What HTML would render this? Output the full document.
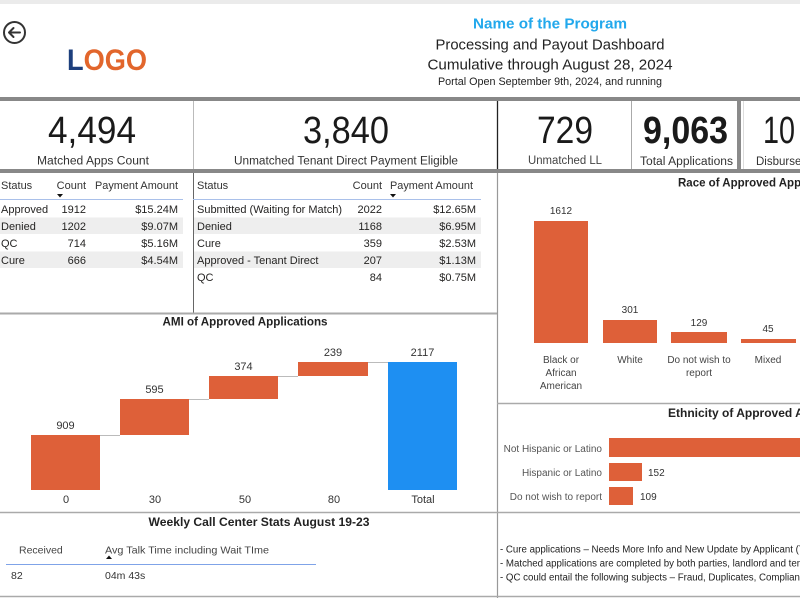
<!DOCTYPE html>
<html><head><meta charset="utf-8">
<style>
html,body{margin:0;padding:0;background:#fff;}
svg{display:block;}
text{font-family:"Liberation Sans",sans-serif;}
</style></head>
<body>
<svg width="800" height="600" viewBox="0 0 800 600" xmlns="http://www.w3.org/2000/svg">
<rect x="0" y="0" width="800" height="600" fill="#fff"/>
<!-- top band -->
<rect x="0" y="0" width="800" height="4" fill="#ebebeb"/>
<!-- back arrow -->
<circle cx="14.5" cy="32.5" r="10.5" fill="none" stroke="#333" stroke-width="2"/>
<path d="M20 32.5 H9 M13.5 28 L9 32.5 L13.5 37" fill="none" stroke="#333" stroke-width="2" stroke-linecap="round" stroke-linejoin="round"/>
<!-- logo -->
<text x="67" y="70" font-size="30" font-weight="bold" textLength="80" lengthAdjust="spacingAndGlyphs"><tspan fill="#1d3f7d">L</tspan><tspan fill="#e2662c">OGO</tspan></text>
<!-- titles -->
<text x="550" y="28.5" font-size="15" font-weight="bold" fill="#22a8ec" text-anchor="middle" textLength="154" lengthAdjust="spacingAndGlyphs">Name of the Program</text>
<text x="550" y="49.5" font-size="15" fill="#222" text-anchor="middle" textLength="229" lengthAdjust="spacingAndGlyphs">Processing and Payout Dashboard</text>
<text x="550" y="69.5" font-size="15" fill="#222" text-anchor="middle" textLength="245" lengthAdjust="spacingAndGlyphs">Cumulative through August 28, 2024</text>
<text x="550" y="85" font-size="11" fill="#222" text-anchor="middle" textLength="224" lengthAdjust="spacingAndGlyphs">Portal Open September 9th, 2024, and running</text>
<!-- header gray bar -->
<rect x="0" y="97" width="800" height="4" fill="#888"/>
<!-- KPI row -->
<line x1="193.5" y1="101" x2="193.5" y2="169" stroke="#bbb" stroke-width="1"/>
<line x1="497.5" y1="101" x2="497.5" y2="169" stroke="#222" stroke-width="1.3"/>
<line x1="631.5" y1="101" x2="631.5" y2="169" stroke="#aaa" stroke-width="1"/>
<rect x="737" y="101" width="4" height="68" fill="#8a8a8a"/>
<line x1="743.5" y1="101" x2="743.5" y2="169" stroke="#ddd" stroke-width="1"/>

<text x="92" y="143" font-size="38" fill="#1a1a1a" text-anchor="middle" textLength="88" lengthAdjust="spacingAndGlyphs">4,494</text>
<text x="346" y="143" font-size="38" fill="#1a1a1a" text-anchor="middle" textLength="86" lengthAdjust="spacingAndGlyphs">3,840</text>
<text x="565" y="143" font-size="38" fill="#1a1a1a" text-anchor="middle" textLength="56" lengthAdjust="spacingAndGlyphs">729</text>
<text x="685.5" y="143" font-size="38" font-weight="bold" fill="#1a1a1a" text-anchor="middle" textLength="85" lengthAdjust="spacingAndGlyphs">9,063</text>
<text x="763" y="143" font-size="38" fill="#1a1a1a" textLength="32" lengthAdjust="spacingAndGlyphs">10</text>
<text x="93" y="164.5" font-size="11.5" fill="#333" text-anchor="middle" textLength="112" lengthAdjust="spacingAndGlyphs">Matched Apps Count</text>
<text x="346" y="164.5" font-size="11.5" fill="#333" text-anchor="middle" textLength="224" lengthAdjust="spacingAndGlyphs">Unmatched Tenant Direct Payment Eligible</text>
<text x="565" y="164" font-size="11.5" fill="#444" text-anchor="middle" textLength="74" lengthAdjust="spacingAndGlyphs">Unmatched LL</text>
<text x="686.5" y="165" font-size="11.5" fill="#333" text-anchor="middle" textLength="93" lengthAdjust="spacingAndGlyphs">Total Applications</text>
<text x="756" y="165" font-size="11.5" fill="#333">Disbursed</text>
<!-- KPI bottom bar -->
<rect x="0" y="169" width="800" height="4" fill="#888"/>

<!-- tables region -->
<line x1="193.5" y1="173" x2="193.5" y2="313" stroke="#666" stroke-width="1"/>
<line x1="0" y1="313.5" x2="497" y2="313.5" stroke="#aaa" stroke-width="2"/>
<line x1="497.5" y1="173" x2="497.5" y2="598" stroke="#999" stroke-width="1.2"/>

<!-- left table -->
<rect x="0" y="217.5" width="183" height="16.5" fill="#eeeeee"/>
<rect x="0" y="251.5" width="183" height="16.5" fill="#eeeeee"/>
<g font-size="11" fill="#333">
<text x="1" y="189">Status</text>
<text x="86" y="189" text-anchor="end">Count</text>
<text x="178" y="189" text-anchor="end" textLength="83" lengthAdjust="spacingAndGlyphs">Payment Amount</text>
</g>
<polygon points="57,194 63,194 60,197.5" fill="#111"/>
<line x1="0" y1="199.5" x2="183" y2="199.5" stroke="#a9c0ea" stroke-width="1"/>
<g font-size="11" fill="#252423">
<text x="1" y="213">Approved</text><text x="86" y="213" text-anchor="end">1912</text><text x="178" y="213" text-anchor="end">$15.24M</text>
<text x="1" y="230">Denied</text><text x="86" y="230" text-anchor="end">1202</text><text x="178" y="230" text-anchor="end">$9.07M</text>
<text x="1" y="247">QC</text><text x="86" y="247" text-anchor="end">714</text><text x="178" y="247" text-anchor="end">$5.16M</text>
<text x="1" y="264">Cure</text><text x="86" y="264" text-anchor="end">666</text><text x="178" y="264" text-anchor="end">$4.54M</text>
</g>

<!-- right table -->
<rect x="194" y="217.5" width="287" height="16.5" fill="#eeeeee"/>
<rect x="194" y="251.5" width="287" height="16.5" fill="#eeeeee"/>
<g font-size="11" fill="#333">
<text x="197" y="189">Status</text>
<text x="382" y="189" text-anchor="end">Count</text>
<text x="390" y="189" textLength="83" lengthAdjust="spacingAndGlyphs">Payment Amount</text>
</g>
<polygon points="390,194 396,194 393,197.5" fill="#111"/>
<line x1="193" y1="199.5" x2="481" y2="199.5" stroke="#a9c0ea" stroke-width="1"/>
<g font-size="11" fill="#252423">
<text x="197" y="213" textLength="145" lengthAdjust="spacingAndGlyphs">Submitted (Waiting for Match)</text><text x="382" y="213" text-anchor="end">2022</text><text x="476" y="213" text-anchor="end">$12.65M</text>
<text x="197" y="230">Denied</text><text x="382" y="230" text-anchor="end">1168</text><text x="476" y="230" text-anchor="end">$6.95M</text>
<text x="197" y="247">Cure</text><text x="382" y="247" text-anchor="end">359</text><text x="476" y="247" text-anchor="end">$2.53M</text>
<text x="197" y="264">Approved - Tenant Direct</text><text x="382" y="264" text-anchor="end">207</text><text x="476" y="264" text-anchor="end">$1.13M</text>
<text x="197" y="281">QC</text><text x="382" y="281" text-anchor="end">84</text><text x="476" y="281" text-anchor="end">$0.75M</text>
</g>

<!-- AMI waterfall -->
<text x="245" y="325.5" font-size="11.5" font-weight="bold" fill="#222" text-anchor="middle" textLength="165" lengthAdjust="spacingAndGlyphs">AMI of Approved Applications</text>
<g stroke="#bbb" stroke-width="1">
<line x1="100" y1="435.5" x2="120" y2="435.5"/>
<line x1="189" y1="399.5" x2="209" y2="399.5"/>
<line x1="278" y1="376.5" x2="298" y2="376.5"/>
<line x1="368" y1="362.5" x2="388" y2="362.5"/>
</g>
<g fill="#de6039">
<rect x="31" y="435" width="69" height="55"/>
<rect x="120" y="399" width="69" height="36"/>
<rect x="209" y="376" width="69" height="23"/>
<rect x="298" y="362" width="70" height="14"/>
</g>
<rect x="388" y="362" width="69" height="128" fill="#1e8ff2"/>
<g font-size="11" fill="#333" text-anchor="middle">
<text x="65.5" y="429">909</text>
<text x="154.5" y="393">595</text>
<text x="243.5" y="370">374</text>
<text x="333" y="356">239</text>
<text x="422.5" y="356">2117</text>
<text x="66" y="503">0</text>
<text x="155" y="503">30</text>
<text x="245" y="503">50</text>
<text x="334" y="503">80</text>
<text x="423" y="503">Total</text>
</g>

<!-- bottom divider -->
<line x1="0" y1="512.5" x2="800" y2="512.5" stroke="#aaa" stroke-width="1.5"/>
<line x1="0" y1="596.5" x2="800" y2="596.5" stroke="#aaa" stroke-width="1.5"/>

<!-- Weekly call center -->
<text x="259" y="526" font-size="11.5" font-weight="bold" fill="#222" text-anchor="middle" textLength="221" lengthAdjust="spacingAndGlyphs">Weekly Call Center Stats August 19-23</text>
<text x="19" y="553.5" font-size="10.5" fill="#444">Received</text>
<text x="105" y="553.5" font-size="10.5" fill="#444" textLength="164" lengthAdjust="spacingAndGlyphs">Avg Talk Time including Wait TIme</text>
<polygon points="106,559 112,559 109,555.5" fill="#111"/>
<line x1="6" y1="564.5" x2="316" y2="564.5" stroke="#7fa3e8" stroke-width="1"/>
<text x="11" y="579" font-size="10.5" fill="#333">82</text>
<text x="105" y="579" font-size="10.5" fill="#333">04m 43s</text>

<!-- Race chart -->
<text x="678" y="186.5" font-size="11.5" font-weight="bold" fill="#222">Race of Approved Applications</text>
<g fill="#de6039">
<rect x="534" y="221" width="54" height="122"/>
<rect x="603" y="320" width="54" height="23"/>
<rect x="671" y="332" width="56" height="11"/>
<rect x="741" y="339" width="55" height="4"/>
</g>
<g font-size="10" fill="#333" text-anchor="middle">
<text x="561" y="214">1612</text>
<text x="630" y="313">301</text>
<text x="699" y="326">129</text>
<text x="768" y="332">45</text>
</g>
<g font-size="10" fill="#444" text-anchor="middle">
<text x="561" y="363">Black or</text>
<text x="561" y="376">African</text>
<text x="561" y="389">American</text>
<text x="630" y="363">White</text>
<text x="699" y="363">Do not wish to</text>
<text x="699" y="376">report</text>
<text x="768" y="363">Mixed</text>
</g>
<line x1="497" y1="403.5" x2="800" y2="403.5" stroke="#aaa" stroke-width="1.5"/>

<!-- Ethnicity chart -->
<text x="668" y="417" font-size="12" font-weight="bold" fill="#222">Ethnicity of Approved Applications</text>
<g fill="#de6039">
<rect x="609" y="438" width="200" height="19"/>
<rect x="609" y="463" width="33" height="18"/>
<rect x="609" y="487" width="24" height="18"/>
</g>
<g font-size="10" fill="#555" text-anchor="end">
<text x="602" y="452">Not Hispanic or Latino</text>
<text x="602" y="476">Hispanic or Latino</text>
<text x="602" y="500">Do not wish to report</text>
</g>
<g font-size="10" fill="#333">
<text x="648" y="476">152</text>
<text x="640" y="500">109</text>
</g>

<!-- notes -->
<g font-size="9.7" fill="#222">
<text x="500" y="552.5">- Cure applications – Needs More Info and New Update by Applicant (Tenant or Landlord)</text>
<text x="500" y="566.5">- Matched applications are completed by both parties, landlord and tenant</text>
<text x="500" y="580.5">- QC could entail the following subjects – Fraud, Duplicates, Compliance</text>
</g>
</svg>
</body></html>
